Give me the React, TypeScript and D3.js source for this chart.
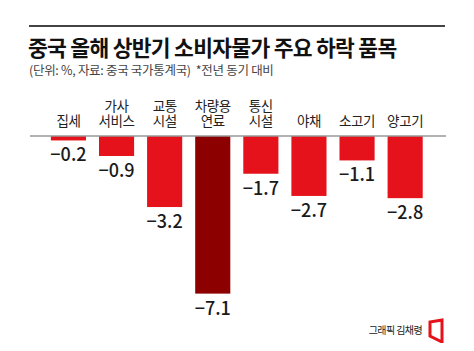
import { useEffect, useRef } from 'react';
import * as d3 from 'd3';

// 품목 (two-line labels), values in %
const categories = ['집세', '가사\n서비스', '교통\n시설', '차량용\n연료', '통신\n시설', '야채', '소고기', '양고기'];
const values = [-0.2, -0.9, -3.2, -7.1, -1.7, -2.7, -1.1, -2.8];
const highlight = '차량용\n연료';

const title = '중국 올해 상반기 소비자물가 주요 하락 품목';
const subtitle = '(단위: %, 자료: 중국 국가통계국)  *전년 동기 대비';
const credit = '그래픽 김채령';

const FONT = '"Noto Sans CJK KR", "Noto Sans", sans-serif';

const App = () => {
  const ref = useRef<SVGSVGElement>(null);

  useEffect(() => {
    if (!ref.current) return;
    const svg = d3.select(ref.current);
    svg.selectAll('*').remove();

    const width = 474;
    const baseY = 136;

    svg.append('rect').attr('width', width).attr('height', 351).attr('fill', '#fff');

    // top rule
    svg.append('line')
      .attr('x1', 29).attr('x2', 445)
      .attr('y1', 26).attr('y2', 26)
      .attr('stroke', '#444').attr('stroke-width', 2);

    svg.append('text')
      .attr('x', 28).attr('y', 56)
      .style('font-family', FONT)
      .style('font-size', '21.5px')
      .style('font-weight', 700)
      .style('letter-spacing', '-0.7px')
      .attr('fill', '#111')
      .text(title);

    svg.append('text')
      .attr('x', 29).attr('y', 75)
      .style('font-family', FONT)
      .style('font-size', '12.5px')
      .style('letter-spacing', '-0.3px')
      .attr('fill', '#444')
      .attr('xml:space', 'preserve')
      .text(subtitle);

    const x = d3.scaleBand<string>()
      .domain(categories)
      .range([44.4, 429.2])
      .paddingInner(0.27)
      .paddingOuter(0.135);

    const y = d3.scaleLinear()
      .domain([0, -8])
      .range([baseY, baseY + 8 * 22.2]);

    const g = svg.append('g');

    // bars
    g.selectAll('.bar')
      .data(values)
      .enter()
      .append('rect')
      .attr('x', (_, i) => x(categories[i]) || 0)
      .attr('y', y(0))
      .attr('width', x.bandwidth())
      .attr('height', d => y(d) - y(0))
      .attr('fill', (_, i) => categories[i] === highlight ? '#8c0000' : '#e5121b');

    // baseline
    g.append('line')
      .attr('x1', 30).attr('x2', 446)
      .attr('y1', baseY).attr('y2', baseY)
      .attr('stroke', '#999').attr('stroke-width', 1.5);

    // value labels
    g.selectAll('.val')
      .data(values)
      .enter()
      .append('text')
      .attr('x', (_, i) => (x(categories[i]) || 0) + x.bandwidth() / 2)
      .attr('y', d => y(d) + 21)
      .attr('text-anchor', 'middle')
      .style('font-family', FONT)
      .style('font-size', '18px')
      .style('font-weight', 500)
      .attr('fill', '#1a1a1a')
      .text(d => d.toFixed(1).replace('-', '−'));

    // category labels
    categories.forEach(c => {
      const lines = c.split('\n');
      const t = g.append('text')
        .attr('x', (x(c) || 0) + x.bandwidth() / 2)
        .attr('text-anchor', 'middle')
        .style('font-family', FONT)
        .style('font-size', '13.5px')
        .style('letter-spacing', '-0.4px')
        .attr('fill', '#222');
      lines.forEach((l, j) => {
        t.append('tspan')
          .attr('x', (x(c) || 0) + x.bandwidth() / 2)
          .attr('y', 126 - (lines.length - 1 - j) * 15.5)
          .text(l);
      });
    });

    // credit
    svg.append('text')
      .attr('x', 422).attr('y', 334)
      .attr('text-anchor', 'end')
      .style('font-family', FONT)
      .style('font-size', '10px')
      .style('letter-spacing', '-0.6px')
      .attr('fill', '#222')
      .text(credit);

    svg.append('path')
      .attr('d', 'M430,322 L442,320 L442,342 L430,336 Z')
      .attr('fill', 'none')
      .attr('stroke', '#e5121b')
      .attr('stroke-width', 3)
      .attr('stroke-linejoin', 'miter');
  }, []);

  return (
    <div style={{ width: 474, height: 351, margin: -8 }}>
      <svg ref={ref} width={474} height={351} style={{ display: 'block' }} />
    </div>
  );
};

export default App;
